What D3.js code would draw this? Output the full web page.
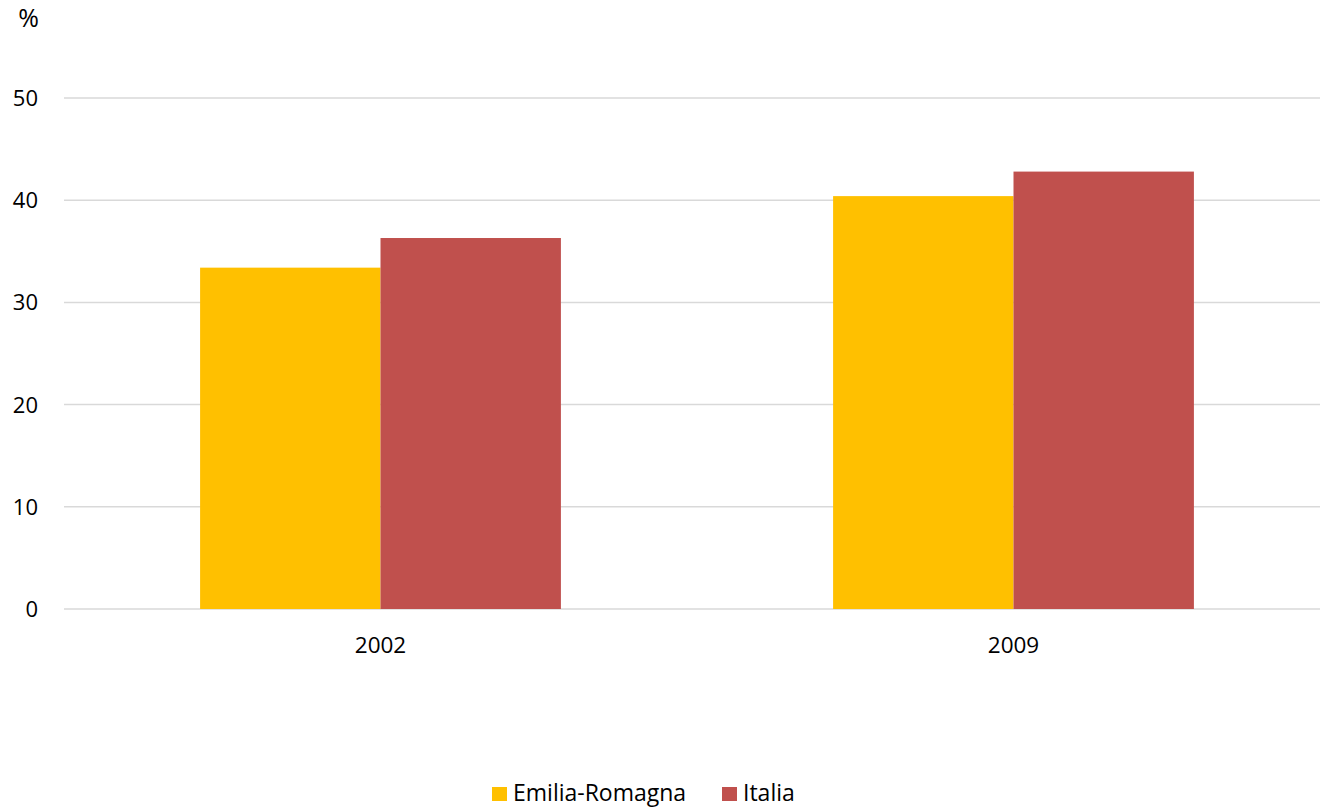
<!DOCTYPE html>
<html>
<head>
<meta charset="utf-8">
<script src="https://cdn.jsdelivr.net/npm/d3@7"></script>
<style>
  html, body { margin: 0; padding: 0; background: #fff; }
  svg { display: block; font-family: "Open Sans", "Liberation Sans", sans-serif; }
</style>
</head>
<body>
<svg id="chart" width="1320" height="808"></svg>
<script>
// Share (%) by year
const categories = ["2002", "2009"];
const seriesNames = ["Emilia-Romagna", "Italia"];
const emiliaRomagna = [33.4, 40.4];
const italia = [36.3, 42.8];
const yTicks = [0, 10, 20, 30, 40, 50];
const unitLabel = "%";

const colors = ["#FFC000", "#C0504D"];
const seriesValues = [emiliaRomagna, italia];

const svg = d3.select("#chart");
const W = 1320, H = 808;
const plotLeft = 64, plotRight = 1330, plotTop = 98, plotBottom = 609;
const fontFamily = "Open Sans, sans-serif";

const x = d3.scaleBand().domain(categories).range([plotLeft, plotRight])
  .paddingInner(0.43).paddingOuter(0.215);
const xs = d3.scaleBand().domain(seriesNames).range([0, x.bandwidth()]);
const y = d3.scaleLinear().domain([0, 50]).range([plotBottom, plotTop]);

// Grid lines
svg.append("g")
  .selectAll("line")
  .data(yTicks)
  .join("line")
  .attr("x1", plotLeft).attr("x2", W)
  .attr("y1", d => y(d)).attr("y2", d => y(d))
  .attr("stroke", "#d9d9d9")
  .attr("stroke-width", 1.5);

// Bars
const groups = svg.append("g")
  .selectAll("g")
  .data(categories)
  .join("g")
  .attr("transform", d => `translate(${x(d)},0)`);

groups.selectAll("rect")
  .data((c, i) => seriesNames.map((s, j) => ({ s, v: seriesValues[j][i], j })))
  .join("rect")
  .attr("x", d => xs(d.s))
  .attr("width", xs.bandwidth())
  .attr("y", d => y(d.v))
  .attr("height", d => y(0) - y(d.v))
  .attr("fill", d => colors[d.j]);

// Y axis labels
const yAxis = svg.append("g")
  .attr("transform", `translate(38,0)`)
  .call(d3.axisLeft(y).tickValues(yTicks).tickSize(0).tickPadding(0).tickFormat(d3.format("d")));
yAxis.select(".domain").remove();
yAxis.selectAll("text")
  .attr("dy", "0.34em")
  .style("font-size", "22px")
  .style("font-family", fontFamily)
  .attr("fill", "#000");

// Unit label
svg.append("text")
  .attr("x", 39).attr("y", 27)
  .attr("text-anchor", "end")
  .style("font-size", "25px")
  .attr("fill", "#000")
  .text(unitLabel);

// X axis labels
const xAxis = svg.append("g")
  .attr("transform", `translate(0,${plotBottom + 44})`)
  .call(d3.axisBottom(x).tickSize(0).tickPadding(0));
xAxis.select(".domain").remove();
xAxis.selectAll("text")
  .attr("dy", 0)
  .style("font-size", "22.5px")
  .style("font-family", fontFamily)
  .attr("fill", "#000");

// Legend
const legendItems = [
  { name: seriesNames[0], color: colors[0], x: 492 },
  { name: seriesNames[1], color: colors[1], x: 722 }
];
const legend = svg.append("g");
legendItems.forEach(it => {
  legend.append("rect")
    .attr("x", it.x).attr("y", 787)
    .attr("width", 15).attr("height", 14)
    .attr("fill", it.color);
  legend.append("text")
    .attr("x", it.x + 21).attr("y", 801)
    .style("font-size", "23px")
    .attr("fill", "#000")
    .text(it.name);
});
</script>
</body>
</html>
